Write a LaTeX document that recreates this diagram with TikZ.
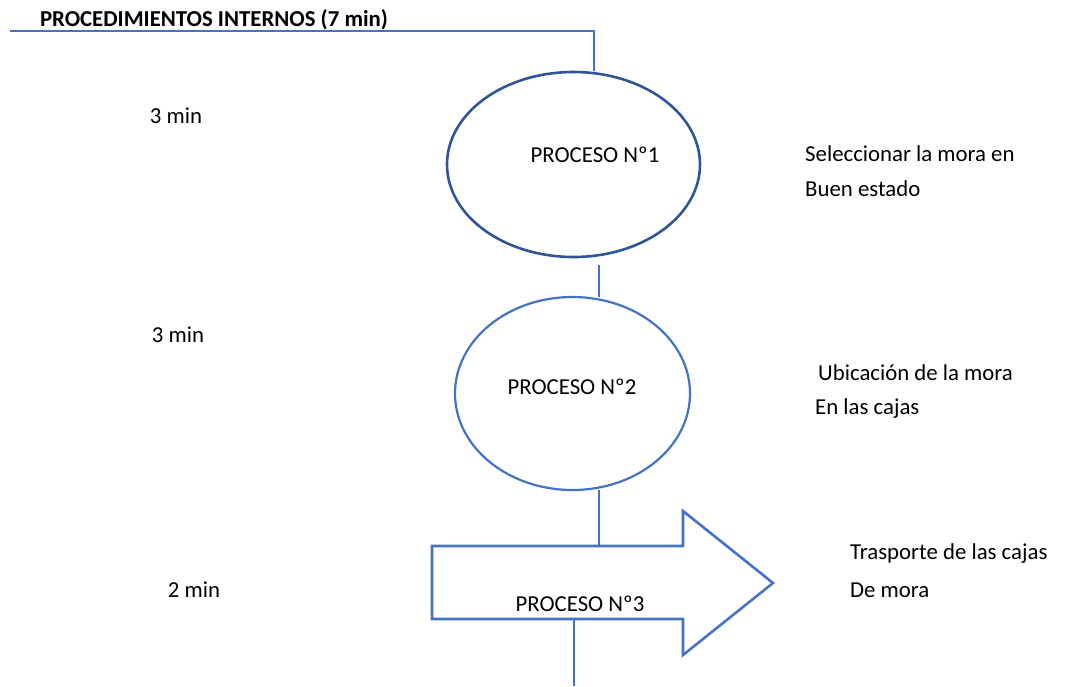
\documentclass[tikz,border=0pt]{standalone}
\usepackage{fontspec}
\setmainfont{Carlito}
\usetikzlibrary{shapes.geometric}
\definecolor{lineblue}{HTML}{4472C4}
\definecolor{darkblue}{HTML}{2F5597}
\tikzset{
  txt/.style={font=\fontsize{22.8}{25}\selectfont, inner sep=0pt},
  side/.style={txt, anchor=west},
  conn/.style={draw=lineblue, line width=1.3pt},
}
\begin{document}
\begin{tikzpicture}[x=1pt, y=-1pt]
\useasboundingbox (0,0) rectangle (1070,686);
\node[txt, font=\fontsize{22.8}{25}\selectfont\bfseries] (title) at (214,20) {PROCEDIMIENTOS INTERNOS (7 min)};
\coordinate (barL) at (10,31);
\coordinate (barR) at (594,31);
% procesos
\node[shape=ellipse, draw=darkblue, line width=2.6pt, minimum width=253, minimum height=185, inner sep=0pt] (p1) at (573.5,164.5) {};
\node[shape=ellipse, draw=lineblue, line width=2.2pt, minimum width=235, minimum height=193, inner sep=0pt] (p2) at (572.5,393.5) {};
\draw[draw=lineblue, line width=2.6pt] (432,546) -- (683,546) -- (683,511) -- (773,583) -- (683,655) -- (683,619) -- (432,619) -- cycle;
\coordinate (p3top) at (599,546);
\coordinate (p3bot) at (574,619);
\coordinate (endpt) at (574,686);
\node[txt] (l1) at (595,155) {PROCESO Nº1};
\node[txt] (l2) at (572,387) {PROCESO Nº2};
\node[txt] (l3) at (580,604) {PROCESO Nº3};
% tiempos
\node[txt] (t1) at (176,116) {3 min};
\node[txt] (t2) at (178,335) {3 min};
\node[txt] (t3) at (194,590) {2 min};
% descripciones
\node[side] (d1a) at (805,154) {Seleccionar la mora en};
\node[side] (d1b) at (805,189) {Buen estado};
\node[side] (d2a) at (818,373) {Ubicación de la mora};
\node[side] (d2b) at (815,409) {En las cajas};
\node[side] (d3a) at (850,554) {Trasporte de las cajas};
\node[side] (d3b) at (850,590) {De mora};
% lineas
\coordinate (c1a) at (599,265);
\coordinate (c1b) at (599,297);
\coordinate (c2a) at (599,490);
\path [conn] (barL) -- (barR) -- (barR |- p1.north);
\path [conn] (c1a) edge (c1b);
\path [conn] (c2a) edge (p3top);
\path [conn] (p3bot) edge (endpt);
\end{tikzpicture}
\end{document}
